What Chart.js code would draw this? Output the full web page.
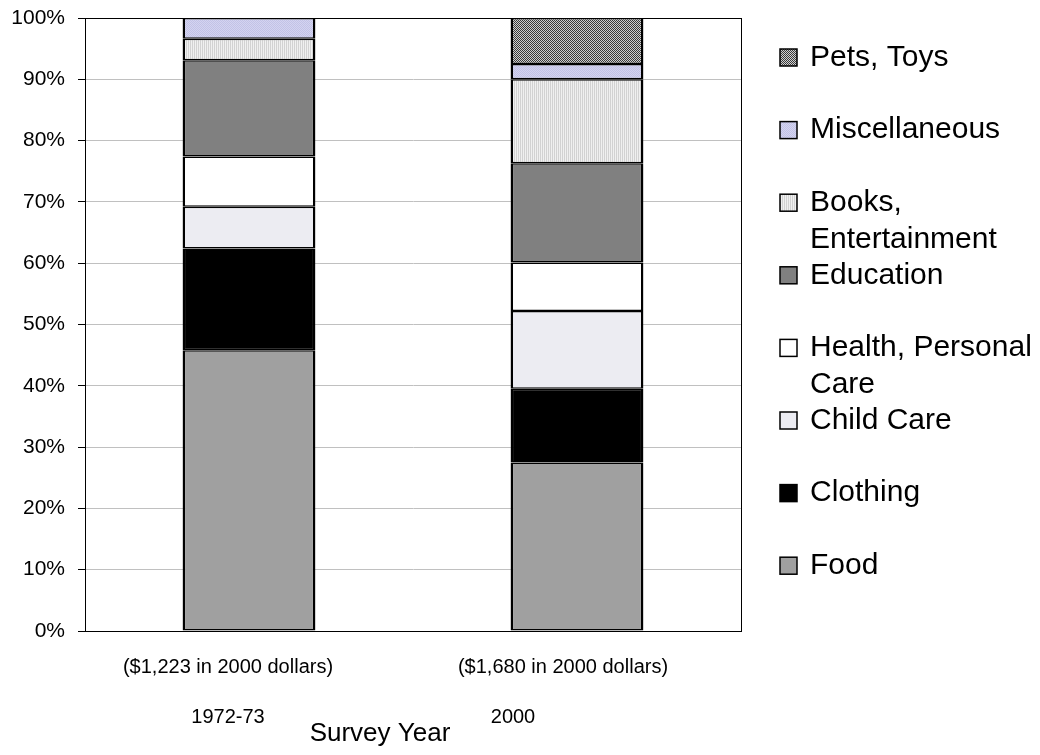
<!DOCTYPE html>
<html>
<head>
<meta charset="utf-8">
<script src="https://cdn.jsdelivr.net/npm/chart.js@4.4.1/dist/chart.umd.min.js"></script>
<style>
  html, body { margin: 0; padding: 0; background: #ffffff; }
  #wrap { width: 1040px; height: 755px; }
</style>
</head>
<body>
<div id="wrap"><canvas id="c" width="1040" height="755"></canvas></div>
<script>
// Survey categories and the spending note under each
const surveyYears = ['1972-73', '2000'];
const spendingNotes = ['($1,223 in 2000 dollars)', '($1,680 in 2000 dollars)'];
const axisTitle = 'Survey Year';

// Spending categories, bottom of the stack first
const seriesNames = ['Food', 'Clothing', 'Child Care', 'Health, Personal Care',
  'Education', 'Books, Entertainment', 'Miscellaneous', 'Pets, Toys'];

// Share of spending (%) per survey year
const food               = [45.8, 27.5];
const clothing           = [16.6, 12.0];
const childCare          = [6.8, 12.7];
const healthCare         = [8.2, 7.9];
const education          = [15.7, 16.2];
const booksEntertainment = [3.5, 13.7];
const miscellaneous      = [3.4, 2.5];
const petsToys           = [0.0, 7.5];

// Percent axis ticks
const yTicks = [0, 10, 20, 30, 40, 50, 60, 70, 80, 90, 100];

const FONT = '"Liberation Sans", Arial, Helvetica, sans-serif';
const canvas = document.getElementById('c');
const ctx = canvas.getContext('2d');

// Small repeating tiles for the hatched fills
function tile(size, paint) {
  const t = document.createElement('canvas');
  t.width = size; t.height = size;
  paint(t.getContext('2d'));
  return ctx.createPattern(t, 'repeat');
}
const checker = tile(2, g => {
  g.fillStyle = '#d0d0d0'; g.fillRect(0, 0, 2, 2);
  g.fillStyle = '#3a3a3a'; g.fillRect(0, 0, 1, 1); g.fillRect(1, 1, 1, 1);
});
const lavender = tile(2, g => {
  g.fillStyle = '#d4d4f0'; g.fillRect(0, 0, 2, 2);
  g.fillStyle = '#c2c2e6'; g.fillRect(0, 0, 1, 1); g.fillRect(1, 1, 1, 1);
});
const stripes = tile(2, g => {
  g.fillStyle = '#f0f0f0'; g.fillRect(0, 0, 2, 2);
  g.fillStyle = '#d2d2d2'; g.fillRect(0, 0, 1, 2);
});

const seriesValues = [food, clothing, childCare, healthCare, education,
  booksEntertainment, miscellaneous, petsToys];
const seriesFills = ['#a0a0a0', '#000000', '#ececf2', '#ffffff', '#808080',
  stripes, lavender, checker];

const datasets = seriesValues.map((vals, i) => ({
  label: seriesNames[i],
  data: vals,
  backgroundColor: seriesFills[i],
  borderColor: '#000000',
  borderWidth: { left: 2.5, right: 2.5, top: 1.5, bottom: 1.5 },
  borderSkipped: false,
  categoryPercentage: 1.0,
  barPercentage: 0.405
}));

// Frame around the plot area
const framePlugin = {
  id: 'frame',
  afterDatasetsDraw(chart) {
    const a = chart.chartArea, c = chart.ctx;
    c.save();
    c.strokeStyle = '#000000';
    c.lineWidth = 1;
    c.strokeRect(Math.round(a.left) + 0.5, Math.round(a.top) + 0.5,
      Math.round(a.right - a.left), Math.round(a.bottom - a.top));
    c.restore();
  }
};

// Category labels, axis title and legend
const textPlugin = {
  id: 'texts',
  afterDraw(chart) {
    const c = chart.ctx, xs = chart.scales.x;
    c.save();
    c.fillStyle = '#000000';
    c.textBaseline = 'middle';
    c.textAlign = 'center';

    c.font = '20px ' + FONT;
    const noteShift = [-21, -14];
    const yearShift = [-21, -64];
    surveyYears.forEach((yr, i) => {
      const px = xs.getPixelForValue(i);
      c.fillText(spendingNotes[i], px + noteShift[i], 667);
      c.fillText(yr, px + yearShift[i], 717);
    });

    c.font = '26px ' + FONT;
    c.fillText(axisTitle, 380, 734);

    // Legend, top entry is the last stacked series
    c.font = '30px ' + FONT;
    c.textAlign = 'left';
    const maxW = 226, lineGap = 37, step = 72.6;
    const order = chart.data.datasets.slice().reverse();
    order.forEach((ds, k) => {
      const cy = 57.5 + k * step;
      // word wrap
      const words = ds.label.split(' ');
      const lines = [];
      let cur = '';
      words.forEach(w => {
        const trial = cur ? cur + ' ' + w : w;
        if (cur && c.measureText(trial).width > maxW) { lines.push(cur); cur = w; }
        else cur = trial;
      });
      lines.push(cur);
      c.fillStyle = ds.backgroundColor;
      c.fillRect(780, cy - 8.5, 17, 17);
      c.strokeStyle = '#000000';
      c.lineWidth = 1.5;
      c.strokeRect(780, cy - 8.5, 17, 17);
      c.fillStyle = '#000000';
      lines.forEach((ln, j) => c.fillText(ln, 810, cy + j * lineGap));
    });
    c.restore();
  }
};

new Chart(canvas, {
  type: 'bar',
  data: { labels: surveyYears, datasets },
  options: {
    responsive: false,
    animation: false,
    layout: { padding: { left: 0, right: 299, top: 18, bottom: 0 } },
    plugins: { legend: { display: false }, tooltip: { enabled: false } },
    scales: {
      x: {
        stacked: true,
        grid: { display: false },
        border: { display: true, color: '#000000', width: 1 },
        ticks: { display: false },
        afterFit(s) { s.height = 124; s.paddingLeft = 0; s.paddingRight = 0; }
      },
      y: {
        stacked: true,
        min: 0,
        max: 100,
        afterBuildTicks(s) { s.ticks = yTicks.map(v => ({ value: v })); },
        ticks: {
          color: '#000000',
          font: { family: FONT, size: 21 },
          padding: 13,
          callback: v => v + '%'
        },
        grid: { color: '#c0c0c0', tickColor: '#000000', tickLength: 7, lineWidth: 1 },
        border: { display: true, color: '#000000', width: 1 },
        afterFit(s) { s.width = 85; s.paddingTop = 0; s.paddingBottom = 0; }
      }
    }
  },
  plugins: [framePlugin, textPlugin]
});
</script>
</body>
</html>
